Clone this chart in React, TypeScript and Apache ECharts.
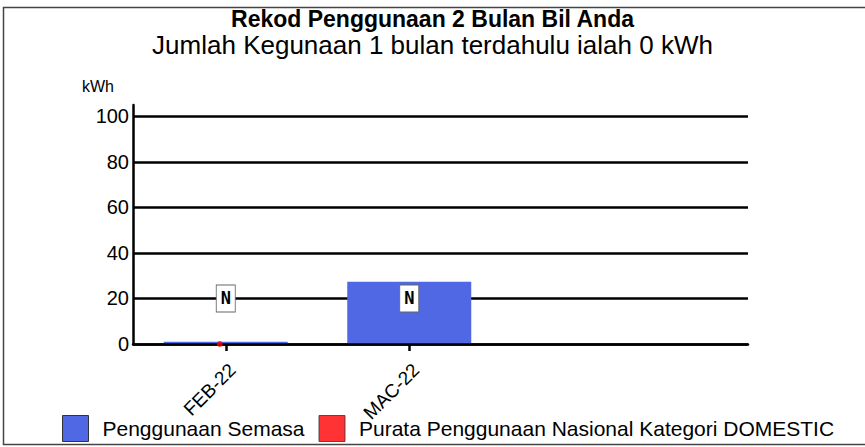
import React, { useEffect, useRef } from "react";
import * as echarts from "echarts";

const months = ["FEB-22", "MAC-22"];
const usage = [1, 27.3];
const nationalAverage: (number | null)[] = [0, null];
const flagLevel = [20, 20];
const flagText = ["N", "N"];
const yTicks = [0, 20, 40, 60, 80, 100];

const FONT = "'Liberation Sans', Arial, sans-serif";

export default function App() {
  const ref = useRef<HTMLDivElement>(null);
  useEffect(() => {
    if (!ref.current) return;
    const chart = echarts.init(ref.current, undefined, { renderer: "svg" });
    const option: any = {
      animation: false,
      backgroundColor: "#fff",
      textStyle: { fontFamily: FONT, color: "#000" },
      title: [
        {
          left: "center",
          top: 7,
          padding: 0,
          text: "Rekod Penggunaan 2 Bulan Bil Anda",
          textStyle: { fontFamily: FONT, fontSize: 23, fontWeight: "bold", color: "#000", lineHeight: 24 },
        },
        {
          left: "center",
          top: 32,
          padding: 0,
          text: "Jumlah Kegunaan 1 bulan terdahulu ialah 0 kWh",
          textStyle: { fontFamily: FONT, fontSize: 26, fontWeight: "normal", color: "#000", lineHeight: 26 },
        },
      ],
      legend: {
        left: 57,
        top: 410,
        icon: "rect",
        itemWidth: 26,
        itemHeight: 26,
        itemGap: 14,
        itemStyle: { borderColor: "#333", borderWidth: 1 },
        data: ["Penggunaan Semasa", "Purata Penggunaan Nasional Kategori DOMESTIC"],
        textStyle: { fontFamily: FONT, fontSize: 21, color: "#000", padding: [16, 0, 0, 9] },
      },
      grid: [
        { left: 133, right: 117, top: 105, bottom: 103 },
        { left: 134, right: 364, top: 105, bottom: 103 },
      ],
      xAxis: [
        {
          gridIndex: 0,
          type: "value",
          min: 0,
          max: 1,
          z: 5,
          axisLine: { show: true, onZero: false, lineStyle: { color: "#000", width: 2.5 } },
          axisTick: { show: false },
          axisLabel: { show: false },
          splitLine: { show: false },
        },
        {
          gridIndex: 1,
          type: "category",
          data: months,
          axisLine: { show: false },
          axisTick: { show: true, alignWithLabel: true, length: 7, lineStyle: { color: "#000", width: 2.5 } },
          axisLabel: {
            rotate: 45,
            fontSize: 19,
            color: "#000",
            margin: 16,
            verticalAlign: "top",
            fontFamily: FONT,
          },
          splitLine: { show: false },
        },
      ],
      yAxis: [
        {
          gridIndex: 0,
          type: "value",
          min: yTicks[0],
          max: 105,
          interval: 20,
          name: "kWh",
          nameLocation: "end",
          nameGap: 11,
          nameTextStyle: { fontFamily: FONT, fontSize: 16, color: "#000", align: "right", padding: [0, 19, 0, 0] },
          axisLine: { show: true, lineStyle: { color: "#000", width: 2.5 } },
          axisTick: { show: false },
          axisLabel: {
            fontSize: 20,
            color: "#000",
            margin: 4,
            showMaxLabel: false,
            formatter: (v: number) => (yTicks.includes(v) ? String(v) : ""),
          },
          splitLine: { show: true, showMaxLine: false, lineStyle: { color: "#000", width: 2.5 } },
        },
        {
          gridIndex: 1,
          type: "value",
          min: 0,
          max: 105,
          show: false,
          splitLine: { show: false },
        },
      ],
      series: [
        {
          name: "Penggunaan Semasa",
          type: "bar",
          xAxisIndex: 1,
          yAxisIndex: 1,
          data: usage,
          barWidth: 124,
          itemStyle: { color: "#5068E3" },
          z: 2,
          markPoint: {
            silent: true,
            symbol: "rect",
            symbolSize: [19, 27],
            itemStyle: { color: "#fff", borderColor: "#666", borderWidth: 1 },
            label: {
              show: true,
              position: "inside",
              color: "#000",
              fontFamily: "'DejaVu Sans Mono', monospace",
              fontSize: 17,
              fontWeight: "bold",
              formatter: (p: any) => p.name,
            },
            data: flagLevel.map((v, i) => ({ name: flagText[i], coord: [i, v] })),
          },
        },
        {
          name: "Purata Penggunaan Nasional Kategori DOMESTIC",
          type: "scatter",
          xAxisIndex: 1,
          yAxisIndex: 1,
          data: nationalAverage,
          symbol: "circle",
          symbolSize: 6,
          symbolOffset: [-6, 0],
          itemStyle: { color: "#ff0000" },
          z: 8,
        },
      ],
      graphic: [
        {
          type: "polyline",
          silent: true,
          shape: { points: [[865, 7.5], [3.5, 7.5], [3.5, 444.5], [865, 444.5]] },
          style: { stroke: "#444", lineWidth: 1.5, fill: null },
        },
      ],
    };
    chart.setOption(option);
    return () => chart.dispose();
  }, []);
  return (
    <div
      ref={ref}
      style={{ position: "fixed", left: 0, top: 0, width: 865, height: 447 }}
    />
  );
}
